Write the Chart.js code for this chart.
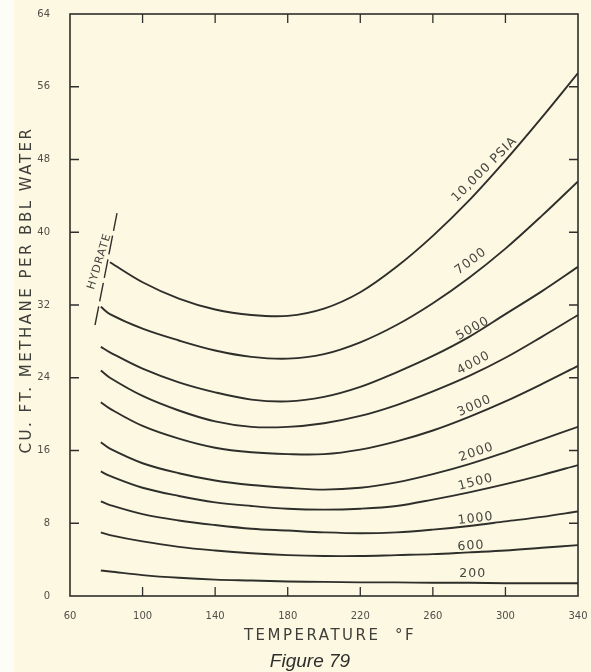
<!DOCTYPE html>
<html>
<head>
<meta charset="utf-8">
<title>Figure 79</title>
<script src="https://cdn.jsdelivr.net/npm/chart.js@4.4.1/dist/chart.umd.min.js"></script>
<style>
  html, body { margin: 0; padding: 0; }
  body {
    width: 591px; height: 672px; overflow: hidden;
    background: linear-gradient(to right, #fdfdf8 14px, #fcf8e2 14px);
  }
  #wrap { position: relative; width: 591px; height: 672px; }
</style>
</head>
<body>
<div id="wrap"><canvas id="chart"></canvas></div>
<script>
// Temperatur (°F) dan kelarutan metana (cu ft / bbl air) per tekanan
const temps = [77, 82, 100, 120, 140, 160, 180, 200, 220, 240, 260, 280, 300, 320, 340];

const p10000 = [null, 36.7, 34.5, 32.7, 31.5, 30.9, 30.8, 31.6, 33.4, 36.2, 39.6, 43.5, 47.9, 52.6, 57.5];
const p7000  = [31.8, 31.0, 29.4, 28.1, 27.0, 26.3, 26.1, 26.6, 27.9, 29.8, 32.2, 35.0, 38.2, 41.8, 45.6];
const p5000  = [27.4, 26.8, 25.0, 23.5, 22.4, 21.6, 21.4, 21.9, 23.0, 24.6, 26.4, 28.5, 31.0, 33.5, 36.2];
const p4000  = [24.8, 24.0, 22.0, 20.4, 19.2, 18.6, 18.6, 19.0, 19.8, 21.0, 22.5, 24.2, 26.2, 28.5, 30.9];
const p3000  = [21.3, 20.6, 18.7, 17.3, 16.3, 15.8, 15.6, 15.6, 16.1, 17.0, 18.2, 19.7, 21.4, 23.3, 25.3];
const p2000  = [16.9, 16.2, 14.6, 13.5, 12.7, 12.2, 11.9, 11.7, 11.9, 12.5, 13.4, 14.5, 15.8, 17.2, 18.6];
const p1500  = [13.7, 13.2, 11.9, 11.0, 10.3, 9.9, 9.6, 9.5, 9.6, 9.9, 10.6, 11.4, 12.3, 13.3, 14.4];
const p1000  = [10.4, 10.0, 9.0, 8.3, 7.8, 7.4, 7.2, 7.0, 6.9, 7.0, 7.3, 7.7, 8.2, 8.7, 9.3];
const p600   = [7.0, 6.7, 6.0, 5.4, 5.0, 4.7, 4.5, 4.4, 4.4, 4.5, 4.6, 4.8, 5.0, 5.3, 5.6];
const p200   = [2.8, 2.7, 2.3, 2.0, 1.8, 1.7, 1.6, 1.55, 1.5, 1.5, 1.45, 1.45, 1.4, 1.4, 1.4];

// Garis batas hidrat (putus-putus)
const hydrateT = [73.8, 85.9];
const hydrateV = [29.8, 42.1];

const xTicks = [60, 100, 140, 180, 220, 260, 300, 340];
const yTicks = [0, 8, 16, 24, 32, 40, 48, 56, 64];

const series = [
    { name: '10,000 PSIA', values: p10000 },
    { name: '7000', values: p7000 },
    { name: '5000', values: p5000 },
    { name: '4000', values: p4000 },
    { name: '3000', values: p3000 },
    { name: '2000', values: p2000 },
    { name: '1500', values: p1500 },
    { name: '1000', values: p1000 },
    { name: '600', values: p600 },
    { name: '200', values: p200 }
];

// Posisi teks label kurva (dalam satuan data) dan sudut putarnya
const curveLabels = [
    { text: '10,000 PSIA', t: 288.5, v: 46.9, angle: -45 },
    { text: '7000', t: 281, v: 36.8, angle: -37 },
    { text: '5000', t: 282, v: 29.4, angle: -29 },
    { text: '4000', t: 282.5, v: 25.6, angle: -28 },
    { text: '3000', t: 283, v: 20.9, angle: -24 },
    { text: '2000', t: 284, v: 15.8, angle: -19 },
    { text: '1500', t: 283.6, v: 12.5, angle: -15 },
    { text: '1000', t: 283.6, v: 8.5, angle: -7 },
    { text: '600', t: 281, v: 5.5, angle: -4 },
    { text: '200', t: 282, v: 2.4, angle: 0 }
];

const ink = '#2e2e2b';
const labelInk = '#45453f';

const datasets = series.map(s => ({
    label: s.name,
    data: temps.map((t, i) => ({ x: t, y: s.values[i] })).filter(p => p.y !== null),
    borderColor: ink,
    borderWidth: 1.9,
    pointRadius: 0,
    tension: 0.35,
    fill: false
}));

datasets.push({
    label: 'Hydrate',
    data: hydrateT.map((t, i) => ({ x: t, y: hydrateV[i] })),
    borderColor: ink,
    borderWidth: 1.4,
    borderDash: [19, 5],
    pointRadius: 0,
    fill: false
});

// Bingkai, tick ke dalam, judul sumbu dan label-label teks
const decorPlugin = {
    id: 'decor',
    afterDatasetsDraw(chart) {
        const { ctx, chartArea: a, scales: { x, y } } = chart;
        ctx.save();
        ctx.strokeStyle = ink;
        ctx.lineWidth = 1.6;
        ctx.strokeRect(a.left, a.top, a.right - a.left, a.bottom - a.top);

        const tl = 9;
        ctx.lineWidth = 1.3;
        ctx.beginPath();
        xTicks.slice(1, -1).forEach(v => {
            const px = x.getPixelForValue(v);
            ctx.moveTo(px, a.bottom); ctx.lineTo(px, a.bottom - tl);
            ctx.moveTo(px, a.top); ctx.lineTo(px, a.top + tl);
        });
        yTicks.slice(1, -1).forEach(v => {
            const py = y.getPixelForValue(v);
            ctx.moveTo(a.left, py); ctx.lineTo(a.left + tl, py);
            ctx.moveTo(a.right, py); ctx.lineTo(a.right - tl, py);
        });
        ctx.stroke();

        // label kurva
        ctx.fillStyle = labelInk;
        ctx.font = '12.5px "DejaVu Sans"';
        ctx.letterSpacing = '1px';
        ctx.textAlign = 'center';
        ctx.textBaseline = 'middle';
        curveLabels.forEach(l => {
            ctx.save();
            ctx.translate(x.getPixelForValue(l.t), y.getPixelForValue(l.v));
            ctx.rotate(l.angle * Math.PI / 180);
            ctx.fillText(l.text, 0, 0);
            ctx.restore();
        });

        // teks HYDRATE
        ctx.save();
        ctx.font = '11px "DejaVu Sans"';
        ctx.translate(x.getPixelForValue(76.3), y.getPixelForValue(36.8));
        ctx.rotate(-73 * Math.PI / 180);
        ctx.fillText('HYDRATE', 0, 0);
        ctx.restore();

        // judul sumbu
        ctx.font = '15px "DejaVu Sans"';
        ctx.letterSpacing = '2.5px';
        ctx.fillStyle = '#3e3e3a';
        ctx.fillText('TEMPERATURE  °F', (a.left + a.right) / 2 + 6, a.bottom + 40);

        ctx.save();
        ctx.translate(27, (a.top + a.bottom) / 2 - 15);
        ctx.rotate(-Math.PI / 2);
        ctx.fillText('CU. FT. METHANE PER BBL WATER', 0, 0);
        ctx.restore();

        ctx.letterSpacing = '0px';
        ctx.font = 'italic 19px "Liberation Sans"';
        ctx.fillStyle = '#2e2e2c';
        ctx.fillText('Figure 79', (a.left + a.right) / 2 - 14, a.bottom + 66);
        ctx.restore();
    }
};

new Chart(document.getElementById('chart'), {
    type: 'line',
    data: { datasets },
    options: {
        responsive: true,
        maintainAspectRatio: false,
        animation: false,
        layout: { padding: { top: 14, right: 13, left: 0, bottom: 0 } },
        plugins: {
            legend: { display: false },
            tooltip: { enabled: false }
        },
        scales: {
            x: {
                type: 'linear',
                min: 60,
                max: 340,
                afterBuildTicks: s => { s.ticks = xTicks.map(v => ({ value: v })); },
                afterFit: s => { s.height = 76; s.paddingLeft = 0; s.paddingRight = 0; },
                grid: { display: false, drawTicks: false },
                border: { display: false },
                ticks: {
                    color: '#4f4f4a',
                    font: { family: 'DejaVu Sans', size: 10 },
                    padding: 14,
                    maxRotation: 0
                }
            },
            y: {
                type: 'linear',
                min: 0,
                max: 64,
                afterBuildTicks: s => { s.ticks = yTicks.map(v => ({ value: v })); },
                afterFit: s => { s.width = 70; s.paddingTop = 0; s.paddingBottom = 0; },
                grid: { display: false, drawTicks: false },
                border: { display: false },
                ticks: {
                    color: '#4f4f4a',
                    font: { family: 'DejaVu Sans', size: 10 },
                    padding: 20
                }
            }
        }
    },
    plugins: [decorPlugin]
});
</script>
</body>
</html>
